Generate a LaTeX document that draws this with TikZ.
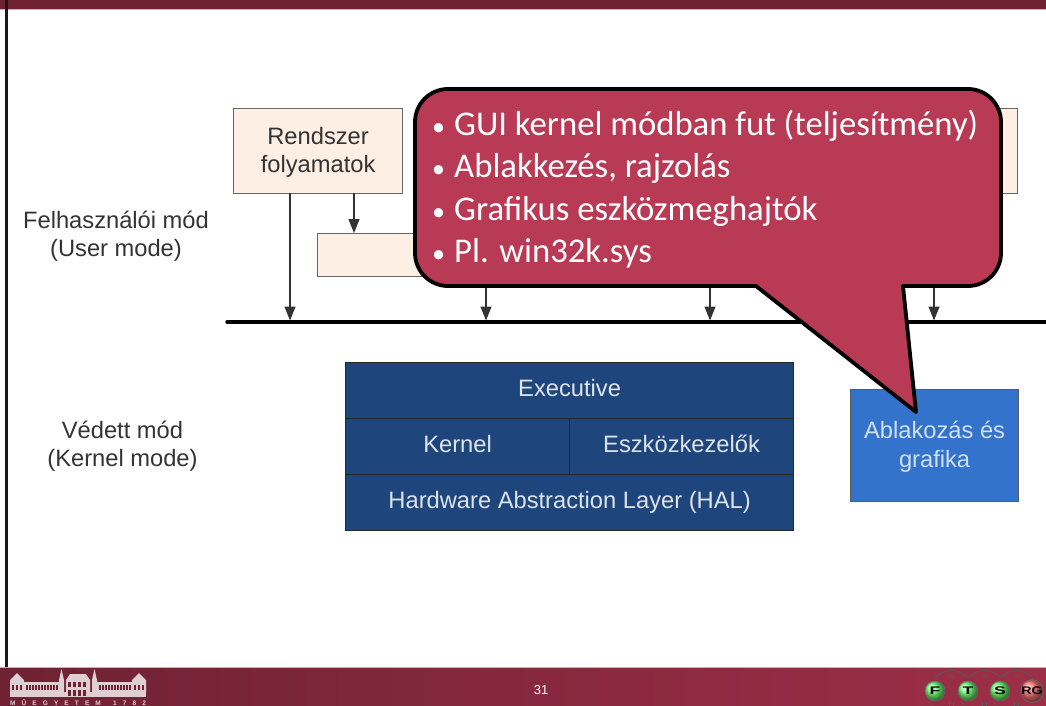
\documentclass[tikz,border=0pt]{standalone}
\usepackage{fontspec}
\setmainfont{Liberation Sans}
\newfontfamily\calloutfont{Carlito}
\usetikzlibrary{positioning, arrows.meta, shapes.geometric}

\definecolor{footerdark}{HTML}{6E2233}
\definecolor{footerlight}{HTML}{9E2E48}
\definecolor{footerline}{HTML}{D9A9B4}
\definecolor{calloutred}{HTML}{B93A55}
\definecolor{procfill}{HTML}{FDEFE4}
\definecolor{kernelblue}{HTML}{1F467C}
\definecolor{winblue}{HTML}{3373CC}
\definecolor{labelgray}{HTML}{333333}

\newcommand{\labelstrut}{\rule{0pt}{20pt}}
\newcommand{\calloutbullet}{\makebox[22pt][l]{\scalebox{.75}{•}}}

\tikzset{
    procbox/.style={draw=black!60, line width=1.2pt, fill=procfill, text=labelgray, font=\fontsize{23.7}{28.5}\selectfont, align=center, inner sep=0pt},
    kernelbox/.style={draw=black!85, line width=1.2pt, fill=kernelblue, text=white!85!kernelblue, font=\fontsize{23.7}{28.5}\selectfont, align=center, inner sep=0pt},
    modelabel/.style={text=labelgray, font=\fontsize{23.7}{28.5}\selectfont, align=center},
    flowarrow/.style={draw=black!80, line width=1.2pt, -{Triangle[length=14pt,width=11pt]}},
    logoball/.style={circle, draw=black!60, line width=.6pt, minimum size=20pt, inner sep=0pt, text=black, font=\bfseries\fontsize{11}{11}\selectfont},
    logoarc/.style={draw=black!65, line width=.8pt}
}

\begin{document}
\begin{tikzpicture}[x=1pt, y=-1pt]
    \useasboundingbox (0, 0) rectangle (1046, 706);

    % Frame
    \fill[footerdark] (0, 0) rectangle (1046, 9);
    \fill[footerline] (0, 9) rectangle (1046, 10.5);
    \fill[black!90] (5, 0) rectangle (7.5, 667);

    % Footer
    \shade[left color=footerdark, right color=footerlight] (0, 667) rectangle (1046, 706);
    \fill[footerline] (0, 666.5) rectangle (1046, 667.5);
    \node[text=white, font=\fontsize{13}{13}\selectfont] (pagenum) at (541, 690) {31};

    % Campus building
    \begin{scope}[white!78!footerdark]
        \fill (10, 697) rectangle (146, 692);
        \fill (10, 680) -- (17, 673) -- (24, 680) -- (24, 692) -- (10, 692) -- cycle;
        \fill (132, 680) -- (139, 673) -- (146, 680) -- (146, 692) -- (132, 692) -- cycle;
        \fill (66, 680) -- (70, 674) -- (86, 674) -- (90, 680) -- (90, 692) -- (66, 692) -- cycle;
        \fill (59, 680) -- (61.5, 669) -- (64, 680) -- (64, 692) -- (59, 692) -- cycle;
        \fill (92, 680) -- (94.5, 669) -- (97, 680) -- (97, 692) -- (92, 692) -- cycle;
        \fill (24, 682) rectangle (59, 692);
        \fill (97, 682) rectangle (132, 692);
        \foreach \x in {12, 16, 20, 26, 29, ..., 56, 99, 102, ..., 129, 134, 138, 142} {
            \fill[footerdark] (\x, 685) rectangle +(1.6, 5);
        }
        \foreach \x in {68, 73, ..., 83} {
            \fill[footerdark] (\x, 682) rectangle +(3, 5);
            \fill[footerdark] (\x, 690) rectangle +(3, 6);
        }
    \end{scope}
    \node[text=white!78!footerdark, font=\bfseries\fontsize{6.5}{6.5}\selectfont, inner sep=0pt] (campus) at (78, 702.5) {\makebox[136pt]{M\hfill Ű\hfill E\hfill G\hfill Y\hfill E\hfill T\hfill E\hfill M\hfill\hfill 1\hfill 7\hfill 8\hfill 2}};

    % Logo
    \foreach \x in {935, 968, 1000} {
        \draw[logoarc] (\x, 678) .. controls (\x+9, 668) and (\x+24, 668) .. (\x+33, 678);
        \draw[logoarc, line width=.6pt] (\x+14, 677.5) -- (\x+16.5, 675) -- (\x+19, 677.5);
        \draw[logoarc] (\x-7, 702) -- (\x-3, 705);
        \draw[logoarc, line width=.6pt] (\x+14, 702) -- (\x+14, 706) (\x+18, 702) -- (\x+18, 706);
    }
    \node[logoball, ball color=green!55!white] (logof) at (935, 691) {\scalebox{1.6}[1]{F}};
    \node[logoball, ball color=green!55!white] (logot) at (968, 691) {\scalebox{1.6}[1]{T}};
    \node[logoball, ball color=green!55!white] (logos) at (1000, 691) {\scalebox{1.6}[1]{S}};
    \node[logoball, ball color=red!55!white] (logorg) at (1032, 691) {\scalebox{1.3}[1]{RG}};

    % Mode labels
    \node[modelabel] (usermode) at (116, 236) {Felhasználói mód\\(User mode)};
    \node[modelabel] (kernelmode) at (122.5, 446) {Védett mód\\(Kernel mode)};

    % Bus line
    \coordinate (busleft) at (227, 322);
    \coordinate (busright) at (1046, 322);
    \draw[line width=3.5pt, line cap=round] (busleft) -- (busright);

    % User processes
    \node[procbox, minimum width=169pt, minimum height=85pt, anchor=north west] (sysproc) at (233, 108) {\labelstrut Rendszer\\folyamatok};
    \node[procbox, minimum width=200pt, minimum height=43pt, anchor=north west] (service) at (317, 233) {};
    \node[procbox, minimum width=100pt, minimum height=85pt, anchor=north east] (applic) at (1018, 108) {};
    \coordinate (sysdrop) at (290, 193);
    \coordinate (sysbus) at (290, 320.5);
    \coordinate (svcdrop) at (354, 193);
    \coordinate (svctop) at (354, 233);
    \draw[flowarrow] (sysdrop) -- (sysbus);
    \draw[flowarrow] (svcdrop) -- (svctop);
    \foreach \x in {486, 710, 934} {
        \coordinate (hidden\x) at (\x, 280);
        \coordinate (bus\x) at (\x, 320.5);
        \draw[flowarrow] (hidden\x) -- (bus\x);
    }

    % Kernel blocks
    \tikzset{kerneltext/.style={text height=17pt, text depth=5pt}}
    \node[kernelbox, kerneltext, minimum width=448pt, minimum height=56pt, anchor=north west] (executive) at (345, 362) {Executive};
    \node[kernelbox, kerneltext, minimum width=224pt, minimum height=56pt, anchor=north west] (kernel) at (345, 418) {Kernel};
    \node[kernelbox, kerneltext, minimum width=224pt, minimum height=56pt, anchor=north west] (devices) at (569, 418) {Eszközkezelők};
    \node[kernelbox, kerneltext, minimum width=448pt, minimum height=56pt, anchor=north west] (hal) at (345, 474) {Hardware Abstraction Layer (HAL)};
    \node[kernelbox, draw=black!65, fill=winblue, text=white!78!winblue, minimum width=168pt, minimum height=112pt, anchor=north west] (windowing) at (850, 389) {\labelstrut Ablakozás és\\grafika};

    % Callout
    \draw[line width=3.8pt, line join=round, fill=calloutred]
        (448, 89) -- (968, 89) arc[start angle=270, end angle=360, radius=33]
        -- (1001, 253) arc[start angle=0, end angle=90, radius=33]
        -- (903, 286) -- (916, 412) -- (756, 286)
        -- (448, 286) arc[start angle=90, end angle=180, radius=33]
        -- (415, 122) arc[start angle=180, end angle=270, radius=33] -- cycle;
    \node[text=white, font=\calloutfont\fontsize{34.7}{42.5}\selectfont, align=left, anchor=north west, inner sep=0pt] (callouttext) at (432, 109.5) {\calloutbullet GUI kernel módban fut (teljesítmény)\\\calloutbullet Ablakkezés, rajzolás\\\calloutbullet Grafikus eszközmeghajtók\\\calloutbullet Pl. win32k.sys};
\end{tikzpicture}
\end{document}
